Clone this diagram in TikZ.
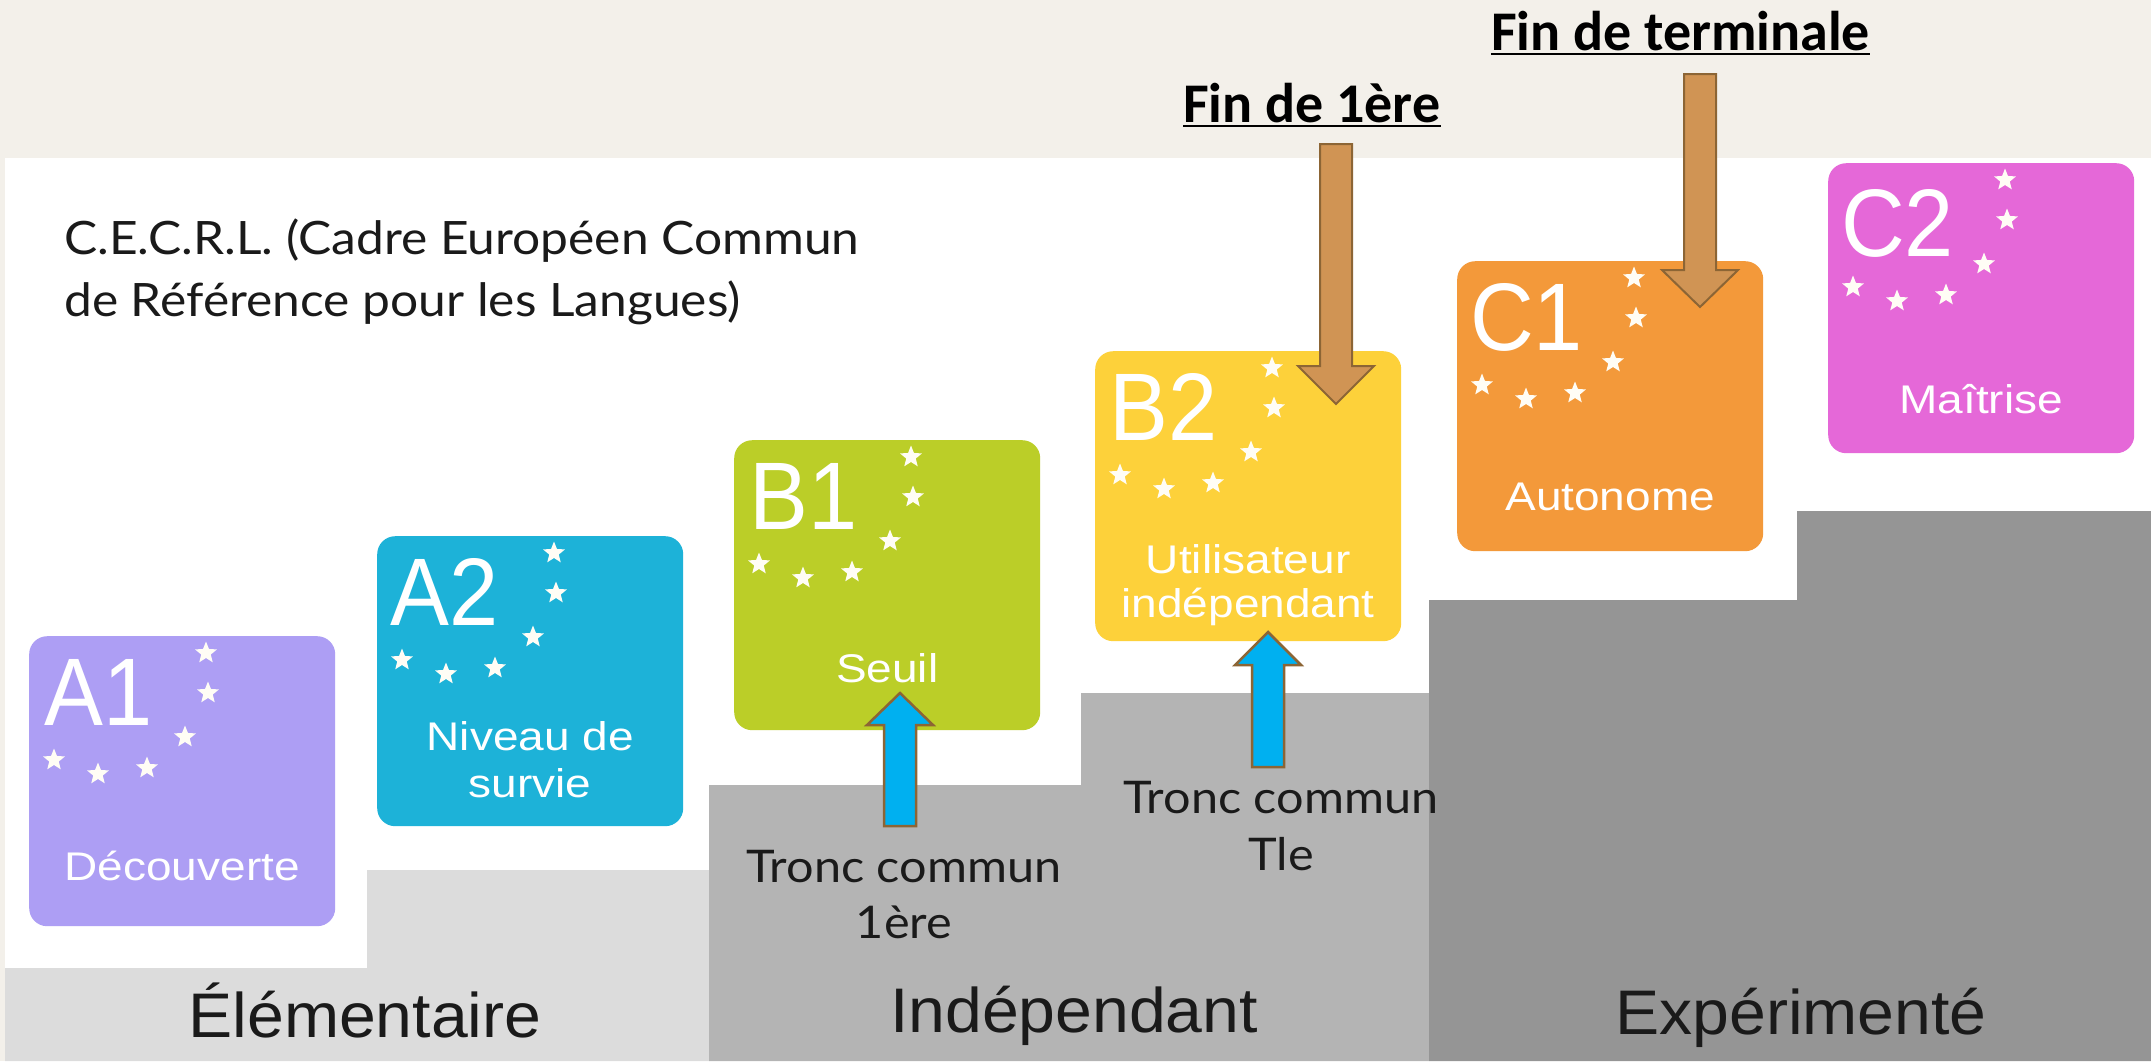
\documentclass[tikz,border=0pt]{standalone}
\usepackage{fontspec}
\usepackage{graphicx}
\usetikzlibrary{shapes.geometric,calc}
\newfontfamily\lblfont[FakeStretch=1.15]{Liberation Sans}
\newfontfamily\bigfont[FakeStretch=0.92]{Liberation Sans}
\newfontfamily\catfont[FakeStretch=1.05]{Liberation Sans}
\newfontfamily\avfont[FakeStretch=1.08]{Lato}
\newfontfamily\finfont{Carlito}
\definecolor{bgbeige}{HTML}{F3F0EA}
\definecolor{gLight}{HTML}{DCDCDC}
\definecolor{gMid}{HTML}{B4B4B4}
\definecolor{gDark}{HTML}{959595}
\definecolor{cAone}{HTML}{AD9EF4}
\definecolor{cAtwo}{HTML}{1DB2D8}
\definecolor{cBone}{HTML}{BBCE28}
\definecolor{cBtwo}{HTML}{FDD13A}
\definecolor{cCone}{HTML}{F3993A}
\definecolor{cCtwo}{HTML}{E568D8}
\definecolor{brownFill}{HTML}{D09454}
\definecolor{brownLine}{HTML}{8C6535}
\definecolor{blueFill}{HTML}{00B0F0}
\definecolor{txtDark}{HTML}{1A1A1A}
\definecolor{starWhite}{HTML}{FFFDF5}
\newcommand{\blockarrow}[7]{%
  \draw[#1] ({#2-#5},#3) -- ({#2-#5},#7) -- ({#2-#6},#7) -- (#2,#4) -- ({#2+#6},#7) -- ({#2+#5},#7) -- ({#2+#5},#3) -- cycle;}
\newcommand{\starsfor}[1]{%
  \foreach \sx/\sy [count=\k] in {177/17,179/57,156/101,118/132,69/138,25/124}
    \node[starnode] (#1s\k) at ($(#1.north west)+(\sx,\sy)$) {};}
\begin{document}
\begin{tikzpicture}[x=1pt,y=-1pt,
  lvlbox/.style={rectangle, rounded corners=18pt, minimum width=306pt, minimum height=290pt, anchor=north west, inner sep=0pt, draw=none},
  bigtxt/.style={text=white, font={\bigfont\fontsize{96pt}{100pt}\selectfont}, inner sep=0pt, anchor=base west},
  lbltxt/.style={text=white, font={\lblfont\fontsize{40pt}{46pt}\selectfont}, inner sep=0pt, anchor=base},
  starnode/.style={star, star points=5, star point ratio=2.3, fill=starWhite, inner sep=0pt, minimum size=23pt, draw=none},
  cattxt/.style={text=txtDark, font={\catfont\fontsize{63pt}{70pt}\selectfont}, inner sep=0pt, anchor=base},
  avtxt/.style={text=txtDark, font={\avfont\fontsize{45pt}{54pt}\selectfont}, inner sep=0pt, anchor=base},
  titletxt/.style={text=txtDark, font={\avfont\fontsize{46pt}{54pt}\selectfont}, inner sep=0pt, anchor=base west},
  fintxt/.style={text=black, font={\finfont\bfseries\fontsize{56pt}{60pt}\selectfont}, inner sep=0pt, anchor=base west},
  brownarrow/.style={fill=brownFill, draw=brownLine, line width=2pt, line join=miter},
  bluearrow/.style={fill=blueFill, draw=brownLine, line width=2.5pt, line join=miter}
]
% background
\fill[bgbeige] (0,0) rectangle (2151,1061);
\useasboundingbox (0,0) rectangle (2151,1061);
\fill[white] (5,158) rectangle (2151,1061);
% steps
\fill[gLight] (5,968) -- (367,968) -- (367,870) -- (709,870) -- (709,1061) -- (5,1061) -- cycle;
\fill[gMid] (709,785) -- (1081,785) -- (1081,693) -- (1429,693) -- (1429,1061) -- (709,1061) -- cycle;
\fill[gDark] (1429,600) -- (1797,600) -- (1797,511) -- (2151,511) -- (2151,1061) -- (1429,1061) -- cycle;
% level boxes
\node[lvlbox, fill=cAone] (a1) at (29,636) {};
\node[lvlbox, fill=cAtwo] (a2) at (377,536) {};
\node[lvlbox, fill=cBone] (b1) at (734,440) {};
\node[lvlbox, fill=cBtwo] (b2) at (1095,351) {};
\node[lvlbox, fill=cCone] (c1) at (1457,261) {};
\node[lvlbox, fill=cCtwo] (c2) at (1828,163) {};
% big letters
\node[bigtxt] (a1t) at ($(a1.north west)+(15,89)$) {A1};
\node[bigtxt] (a2t) at ($(a2.north west)+(13,89)$) {A2};
\node[bigtxt] (b1t) at ($(b1.north west)+(15,89)$) {B1};
\node[bigtxt] (b2t) at ($(b2.north west)+(14,89)$) {B2};
\node[bigtxt] (c1t) at ($(c1.north west)+(13,89)$) {C1};
\node[bigtxt] (c2t) at ($(c2.north west)+(13,93)$) {C2};
% stars
\starsfor{a1}
\starsfor{a2}
\starsfor{b1}
\starsfor{b2}
\starsfor{c1}
\starsfor{c2}
% box labels
\node[lbltxt] (a1l) at ($(a1.north)+(0,244)$) {Découverte};
\node[lbltxt] (a2l) at ($(a2.north)+(0,214)$) {Niveau de};
\node[lbltxt] (a2m) at ($(a2.north)+(0,261)$) {survie};
\node[lbltxt] (b1l) at ($(b1.north)+(0,242)$) {Seuil};
\node[lbltxt] (b2l) at ($(b2.north)+(0,222)$) {Utilisateur};
\node[lbltxt] (b2m) at ($(b2.north)+(0,266)$) {indépendant};
\node[lbltxt] (c1l) at ($(c1.north)+(0,249)$) {Autonome};
\node[lbltxt] (c2l) at ($(c2.north)+(0,250)$) {Maîtrise};
% category labels
\node[cattxt] (elem) at (365,1037) {Élémentaire};
\node[cattxt] (indep) at (1074,1032) {Indépendant};
\node[cattxt] (exper) at (1801,1034) {Expérimenté};
% title
\node[titletxt] (title1) at (64,254) {C.E.C.R.L. (Cadre Européen Commun};
\node[titletxt] (title2) at (64,316) {de Référence pour les Langues)};
% brown arrows
\blockarrow{brownarrow}{1336}{144}{404}{16}{38}{366}
\blockarrow{brownarrow}{1700}{74}{307}{16}{38}{270}
% blue arrows
\blockarrow{bluearrow}{900}{826}{693}{16}{33}{725}
\blockarrow{bluearrow}{1268}{767}{632}{16}{33}{665}
% Tronc commun labels
\node[avtxt] (tc1) at (904,882) {Tronc commun};
\node[avtxt] (tc1b) at (904,938) {1ère};
\node[avtxt] (tc2) at (1281,813) {Tronc commun};
\node[avtxt] (tc2b) at (1281,870) {Tle};
% Fin labels
\node[fintxt] (fin1) at (1183,122) {Fin de 1ère};
\draw[black, line width=2.5pt] ([yshift=-4pt]fin1.base west) -- ([yshift=-4pt]fin1.base east);
\node[fintxt] (fin2) at (1491,50) {Fin de terminale};
\draw[black, line width=2.5pt] ([yshift=-4pt]fin2.base west) -- ([yshift=-4pt]fin2.base east);
\end{tikzpicture}
\end{document}
